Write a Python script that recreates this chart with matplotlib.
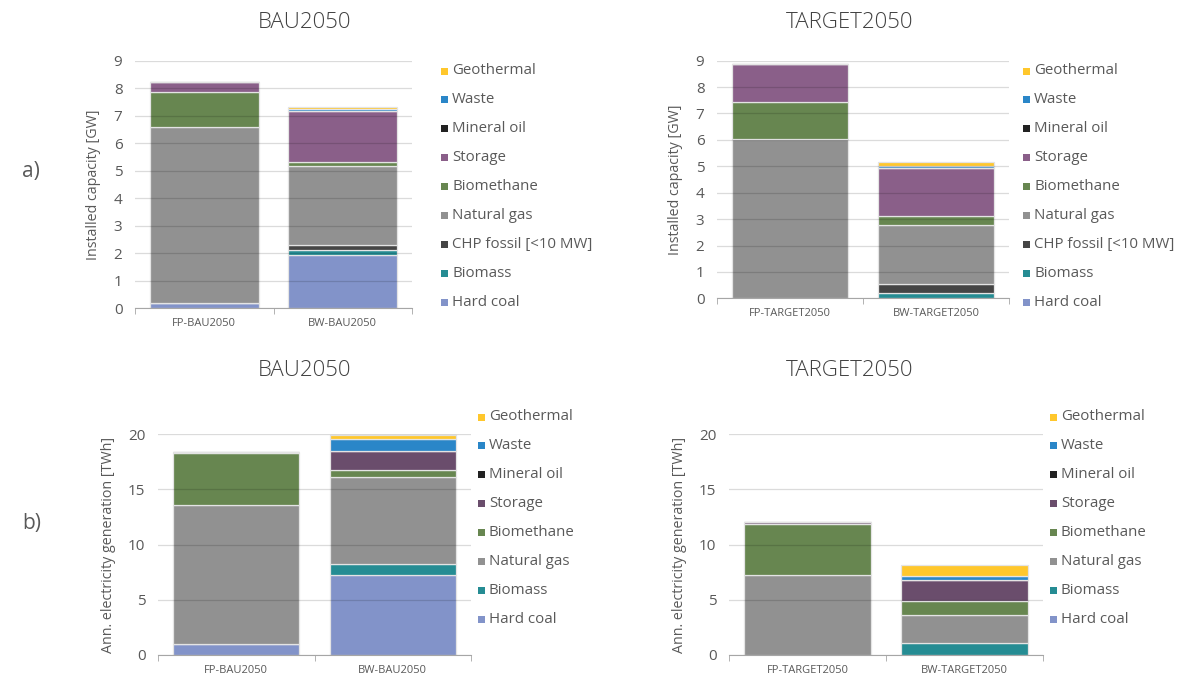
import matplotlib.pyplot as plt
from matplotlib.patches import Rectangle

plt.rcParams["font.family"] = ["Open Sans", "DejaVu Sans"]

W, H = 1181, 677

# technologies, bottom to top of the stack
techs = ["Hard coal", "Biomass", "CHP fossil [<10 MW]", "Natural gas", "Biomethane",
         "Storage", "Mineral oil", "Waste", "Geothermal"]

cap_colors = {"Hard coal": "#8293c9", "Biomass": "#258c93", "CHP fossil [<10 MW]": "#454545",
              "Natural gas": "#919191", "Biomethane": "#678650", "Storage": "#8a5f89",
              "Mineral oil": "#222222", "Waste": "#2a86c8", "Geothermal": "#ffc72c"}
gen_colors = dict(cap_colors, Storage="#6a4d6c")

# installed capacity [GW]
bau_labels = ["FP-BAU2050", "BW-BAU2050"]
target_labels = ["FP-TARGET2050", "BW-TARGET2050"]

cap_bau = {"Hard coal": [0.18, 1.93], "Biomass": [0.0, 0.18], "CHP fossil [<10 MW]": [0.0, 0.20],
           "Natural gas": [6.40, 2.85], "Biomethane": [1.28, 0.16], "Storage": [0.35, 1.84],
           "Mineral oil": [0.0, 0.0], "Waste": [0.0, 0.07], "Geothermal": [0.0, 0.07]}
cap_target = {"Hard coal": [0.0, 0.0], "Biomass": [0.0, 0.19], "CHP fossil [<10 MW]": [0.0, 0.34],
              "Natural gas": [6.05, 2.24], "Biomethane": [1.37, 0.35], "Storage": [1.44, 1.83],
              "Mineral oil": [0.0, 0.0], "Waste": [0.0, 0.08], "Geothermal": [0.0, 0.12]}

# annual electricity generation [TWh]
gen_bau = {"Hard coal": [0.97, 7.25], "Biomass": [0.0, 1.00], "Natural gas": [12.59, 7.91],
           "Biomethane": [4.74, 0.61], "Storage": [0.13, 1.75], "Mineral oil": [0.0, 0.0],
           "Waste": [0.0, 1.06], "Geothermal": [0.0, 0.39]}
gen_target = {"Hard coal": [0.0, 0.0], "Biomass": [0.0, 1.06], "Natural gas": [7.25, 2.54],
              "Biomethane": [4.62, 1.26], "Storage": [0.15, 1.91], "Mineral oil": [0.0, 0.0],
              "Waste": [0.0, 0.36], "Geothermal": [0.0, 1.00]}

TXT = "#595959"

fig = plt.figure(figsize=(W / 100, H / 100), dpi=100)


def px_axes(left, top, right, bottom):
    return fig.add_axes([left / W, 1 - bottom / H, (right - left) / W, (bottom - top) / H])


def stacked(ax, data, colors, labels, ymax, ystep, ylabel, bar_w):
    x = range(len(labels))
    base = [0.0] * len(labels)
    for t in techs:
        if t not in data:
            continue
        vals = data[t]
        ax.bar(x, vals, bar_w, bottom=base, color=colors[t], edgecolor="#e4e4e4",
               linewidth=0.9, zorder=1)
        base = [b + v for b, v in zip(base, vals)]
    ax.set_xlim(-0.5, len(labels) - 0.5)
    ax.set_ylim(0, ymax)
    ax.set_yticks(range(0, ymax + 1, ystep))
    ax.set_xticks(list(x))
    ax.set_xticklabels(labels, fontsize=8, color=TXT)
    ax.set_xticks([i - 0.5 for i in range(len(labels) + 1)], minor=True)
    ax.tick_params(axis="x", which="major", length=0, pad=7)
    ax.tick_params(axis="x", which="minor", length=4, color="#a6a6a6")
    ax.tick_params(axis="y", length=0, labelsize=11, labelcolor=TXT, pad=9)
    for s in ["top", "right", "left"]:
        ax.spines[s].set_visible(False)
    ax.spines["bottom"].set_color("#a6a6a6")
    ax.set_axisbelow(False)
    ax.yaxis.grid(True, color="black", alpha=0.14, linewidth=0.9)
    ax.set_ylabel(ylabel, fontsize=10.3, color=TXT, labelpad=9)


def legend(entries, colors, x, y0, dy=28.9):
    for i, t in enumerate(entries):
        y = y0 + i * dy
        fig.add_artist(Rectangle(((x - 3.5) / W, 1 - (y + 3.5) / H), 7 / W, 7 / H,
                                 facecolor=colors[t], edgecolor="none",
                                 transform=fig.transFigure))
        fig.text((x + 8) / W, 1 - y / H, t, fontsize=10.8, color=TXT, va="center", ha="left")


cap_legend = ["Geothermal", "Waste", "Mineral oil", "Storage", "Biomethane", "Natural gas",
              "CHP fossil [<10 MW]", "Biomass", "Hard coal"]
gen_legend = [t for t in cap_legend if t != "CHP fossil [<10 MW]"]

ax1 = px_axes(135, 60.7, 412, 308.3)
stacked(ax1, cap_bau, cap_colors, bau_labels, 9, 1, "Installed capacity [GW]", 0.79)
ax2 = px_axes(717, 60.7, 1009, 298.3)
stacked(ax2, cap_target, cap_colors, target_labels, 9, 1, "Installed capacity [GW]", 0.79)
ax3 = px_axes(158, 434.3, 471, 655)
stacked(ax3, gen_bau, gen_colors, bau_labels, 20, 5, "Ann. electricity generation [TWh]", 0.805)
ax4 = px_axes(729, 434.3, 1043, 655)
stacked(ax4, gen_target, gen_colors, target_labels, 20, 5, "Ann. electricity generation [TWh]", 0.805)

legend(cap_legend, cap_colors, 444, 71)
legend(cap_legend, cap_colors, 1026, 71)
legend(gen_legend, gen_colors, 481, 417)
legend(gen_legend, gen_colors, 1053, 417)

for x, y, s in [(305, 22, "BAU2050"), (850, 22, "TARGET2050"),
                (305, 370, "BAU2050"), (850, 370, "TARGET2050")]:
    fig.text(x / W, 1 - y / H, s, fontsize=16, color="#404040", ha="center", va="center",
             fontweight="light")

fig.text(22 / W, 1 - 172 / H, "a)", fontsize=15, color=TXT, ha="left", va="center")
fig.text(22 / W, 1 - 524 / H, "b)", fontsize=15, color=TXT, ha="left", va="center")

fig.savefig("out.png", dpi=100)
